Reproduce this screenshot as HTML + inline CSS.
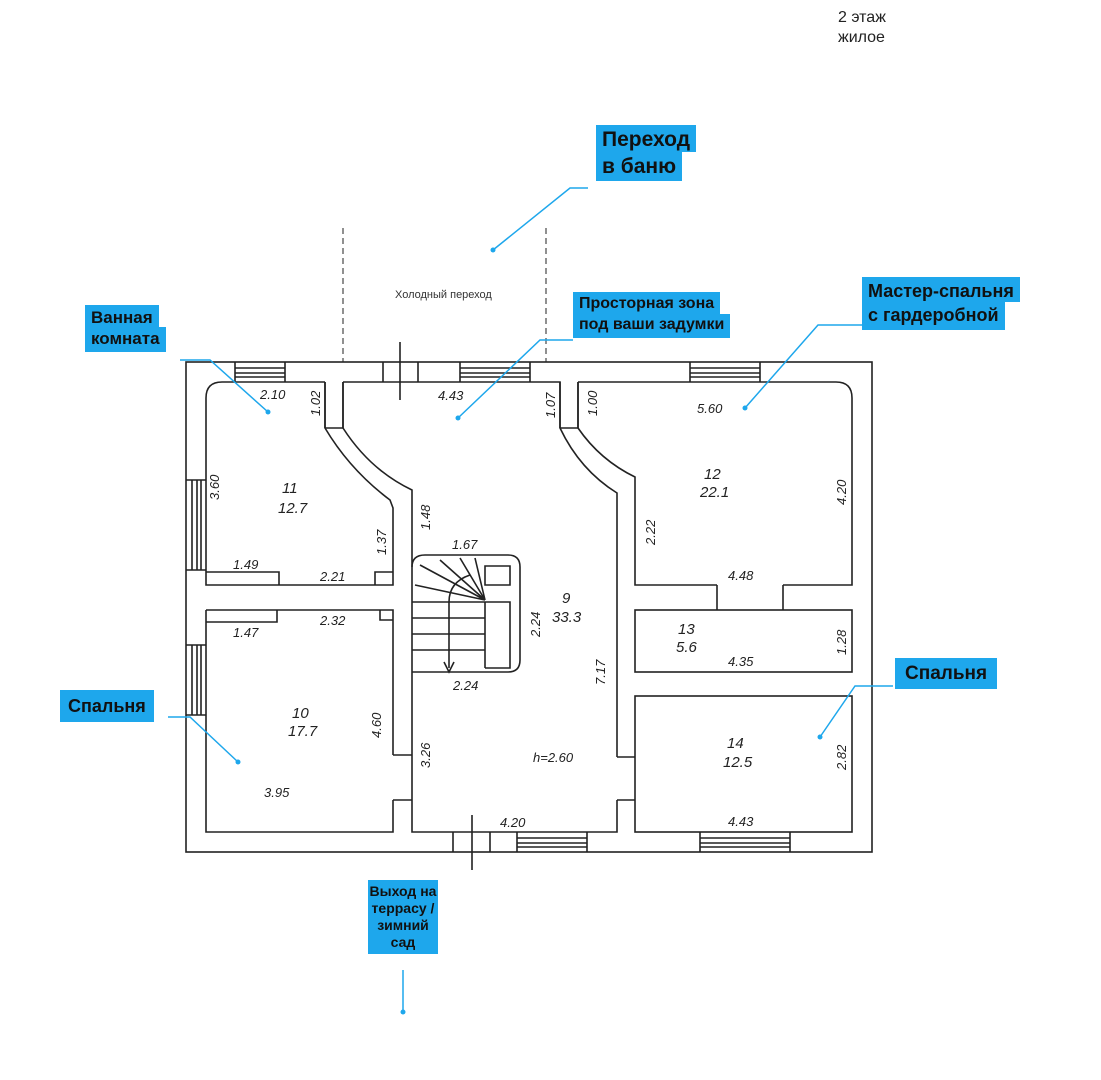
<!DOCTYPE html>
<html><head><meta charset="utf-8"><style>
body{margin:0;background:#fff;width:1101px;height:1080px;overflow:hidden;position:relative;font-family:"Liberation Sans",sans-serif}
.lb{position:absolute;font-weight:bold;color:#111;line-height:1.0}
.lb span{background:#1ea7ec;padding:4px 6px;display:inline-block}
svg{position:absolute;left:0;top:0}
.d{font-family:"Liberation Sans",sans-serif;font-style:italic;font-size:13px;fill:#222}
</style></head><body>
<svg width="1101" height="1080" viewBox="0 0 1101 1080">
<g fill="none" stroke="#222" stroke-width="1.6">
<rect x="186" y="362" width="686" height="490"/>
<path d="M325 382 H222 Q206 382 206 398 V585 H393 V508 L390 500 Q350 470 325 428 V382"/>
<path d="M206 572 H279 V585 M375 585 V572 H393"/>
<path d="M206 610 H393 V755 M393 800 V832 H206 V610"/>
<path d="M206 622 H277 V610 M380 610 V620 H393"/>
<path d="M343 382 H560 V428 Q580 470 617 493 V757 M617 800 V832 H412 V490 Q370 470 343 428 V382"/>
<path d="M393 755 H412 M393 800 H412 M617 757 H635 M617 800 H635"/>
<path d="M578 382 H836 Q852 382 852 398 V585 H783 M717 585 H635 V477 Q600 460 578 428 V382"/>
<path d="M717 585 V610 M783 585 V610"/>
<rect x="635" y="610" width="217" height="62"/>
<rect x="635" y="696" width="217" height="136"/>
<path d="M325 382 V428 M343 382 V428 M325 428 H343 M560 382 V428 M578 382 V428 M560 428 H578"/>
<path d="M425 555 H508 Q520 555 520 567 V660 Q520 672 508 672 H412"/>
<path d="M425 555 Q412 555 412 567"/>
<path d="M485 566 H510 V585 H485 Z M485 602 H510 V668 H485"/>
<path d="M485 602 V668 M412 602 H485 M412 618 H485 M412 634 H485 M412 650 H485"/>
<path d="M449 602 V668 M449 602 Q449 582 470 575 M444 662 L449 672 L454 662"/>
<path d="M485 600 L420 565 M485 600 L440 560 M485 600 L460 558 M485 600 L475 558 M485 600 L415 585"/>
<path d="M235 362 V382 M285 362 V382 M235 368 H285 M235 373 H285 M235 377 H285"/>
<path d="M460 362 V382 M530 362 V382 M460 368 H530 M460 373 H530 M460 377 H530"/>
<path d="M690 362 V382 M760 362 V382 M690 368 H760 M690 373 H760 M690 377 H760"/>
<path d="M186 480 H206 M186 570 H206 M192 480 V570 M197 480 V570 M201 480 V570"/>
<path d="M186 645 H206 M186 715 H206 M192 645 V715 M197 645 V715 M201 645 V715"/>
<path d="M517 832 V852 M587 832 V852 M517 838 H587 M517 843 H587 M517 847 H587"/>
<path d="M700 832 V852 M790 832 V852 M700 838 H790 M700 843 H790 M700 847 H790"/>
<path d="M383 362 V382 M418 362 V382 M400 342 V400"/>
<path d="M453 832 V852 M490 832 V852 M472 815 V870"/>
</g>
<g stroke="#222" stroke-width="1" stroke-dasharray="6,4"><path d="M343 228 V362 M546 228 V362"/></g>
<text x="395" y="298" font-size="11" fill="#333" font-family="Liberation Sans">Холодный переход</text>
<g class="d">
<text x="260" y="399">2.10</text><text x="438" y="400">4.43</text><text x="697" y="413">5.60</text>
<text x="233" y="569">1.49</text><text x="320" y="581">2.21</text><text x="233" y="637">1.47</text>
<text x="320" y="625">2.32</text><text x="452" y="549">1.67</text><text x="453" y="690">2.24</text>
<text x="728" y="580">4.48</text><text x="728" y="666">4.35</text><text x="533" y="762">h=2.60</text>
<text x="264" y="797">3.95</text><text x="500" y="827">4.20</text><text x="728" y="826">4.43</text>
<text x="282" y="493" font-size="15">11</text><text x="278" y="513" font-size="15">12.7</text>
<text x="704" y="479" font-size="15">12</text><text x="700" y="497" font-size="15">22.1</text>
<text x="562" y="603" font-size="15">9</text><text x="552" y="622" font-size="15">33.3</text>
<text x="678" y="634" font-size="15">13</text><text x="676" y="652" font-size="15">5.6</text>
<text x="292" y="718" font-size="15">10</text><text x="288" y="736" font-size="15">17.7</text>
<text x="727" y="748" font-size="15">14</text><text x="723" y="767" font-size="15">12.5</text>
<text transform="translate(320,416) rotate(-90)">1.02</text>
<text transform="translate(555,418) rotate(-90)">1.07</text>
<text transform="translate(597,416) rotate(-90)">1.00</text>
<text transform="translate(219,500) rotate(-90)">3.60</text>
<text transform="translate(386,555) rotate(-90)">1.37</text>
<text transform="translate(430,530) rotate(-90)">1.48</text>
<text transform="translate(540,637) rotate(-90)">2.24</text>
<text transform="translate(605,685) rotate(-90)">7.17</text>
<text transform="translate(655,545) rotate(-90)">2.22</text>
<text transform="translate(846,505) rotate(-90)">4.20</text>
<text transform="translate(846,655) rotate(-90)">1.28</text>
<text transform="translate(846,770) rotate(-90)">2.82</text>
<text transform="translate(381,738) rotate(-90)">4.60</text>
<text transform="translate(430,768) rotate(-90)">3.26</text>
</g>
<g stroke="#1ea7ec" stroke-width="1.5" fill="none">
<path d="M588 188 H570 L493 250"/>
<path d="M180 360 H210 L268 412"/>
<path d="M573 340 H540 L458 418"/>
<path d="M862 325 H818 L745 408"/>
<path d="M168 717 H190 L238 762"/>
<path d="M893 686 H855 L820 737"/>
<path d="M403 970 V1012"/>
</g>
<g fill="#1ea7ec"><circle cx="493" cy="250" r="2.5"/><circle cx="268" cy="412" r="2.5"/><circle cx="458" cy="418" r="2.5"/><circle cx="745" cy="408" r="2.5"/><circle cx="238" cy="762" r="2.5"/><circle cx="820" cy="737" r="2.5"/><circle cx="403" cy="1012" r="2.5"/></g>
</svg>
<div style="position:absolute;left:838px;top:8px;font-size:16px;color:#222;line-height:20px">2 этаж<br>жилое</div>
<div class="lb" style="left:596px;top:125px;font-size:21px"><span style="padding-bottom:2px">Переход</span><br><span>в баню</span></div>
<div class="lb" style="left:85px;top:305px;font-size:17px"><span style="padding:4px 6px 1px">Ванная</span><br><span style="padding:3px 6px 5px">комната</span></div>
<div class="lb" style="left:573px;top:292px;font-size:16px"><span style="padding:4px 6px 2px">Просторная зона</span><br><span style="padding:3px 6px 5px">под ваши задумки</span></div>
<div class="lb" style="left:862px;top:277px;font-size:18px"><span style="padding:5px 6px 2px">Мастер-спальня</span><br><span style="padding:4px 6px 6px">с гардеробной</span></div>
<div class="lb" style="left:60px;top:690px;font-size:18px"><span style="padding:7px 8px">Спальня</span></div>
<div class="lb" style="left:895px;top:658px;font-size:19px"><span style="padding:6px 10px">Спальня</span></div>
<div class="lb" style="left:360px;top:880px;font-size:14px;text-align:center;width:86px;line-height:17px"><span style="padding:3px 2px">Выход на<br>террасу /<br>зимний<br>сад</span></div>
</body></html>
